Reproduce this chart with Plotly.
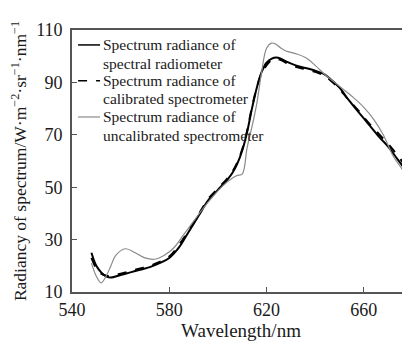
import plotly.graph_objects as go

wl_solid = [548, 550, 552, 554, 556, 560, 564, 568, 572, 576, 580, 584, 588, 592, 596, 600, 604, 606, 608, 610,
            612, 614, 616, 618, 620, 622, 624, 626, 628, 632, 636, 640, 644, 646, 650, 654, 658, 662, 666, 670,
            674, 678, 680]
radiometer = [25, 20, 17.5, 16, 15.5, 16.5, 17.5, 18.5, 19.5, 21, 23, 27, 33, 39, 45, 49, 53, 55.5, 59, 64,
              71, 80, 88, 94, 97.5, 99, 99.5, 99, 98, 96.5, 95.5, 94.5, 93, 91.5, 88, 83, 78.5, 74, 69.5, 65.5,
              60.5, 55.5, 53]
calibrated = [23, 19, 17, 16.2, 16, 17, 18, 19, 20, 21.5, 23.5, 28, 33.5, 39.5, 45.5, 49.5, 53.5, 56, 59.5, 64.5,
              71.5, 80.5, 88, 93.5, 96.5, 98.5, 99, 98.5, 97.5, 96, 95, 94, 92.5, 91, 87.5, 83, 79, 74.5, 70.5, 66.5,
              62, 57, 54.5]

wl_gray = [548, 550, 552, 554, 556, 558, 562, 566, 570, 574, 578, 582, 586, 590, 594, 598, 602, 606, 608, 610,
           612, 614, 616, 618, 620, 622, 624, 626, 628, 632, 636, 640, 644, 648, 652, 656, 660, 664, 668, 672,
           676, 680]
uncalibrated = [21, 16, 13.5, 16, 20, 24, 26.5, 25, 23, 22.5, 24, 27, 32, 37, 42, 46.5, 50.5, 53.5, 54.5, 55,
                65, 73, 82, 94, 103, 105, 104.5, 103, 102, 101, 99.5, 96.5, 93, 90, 87, 84, 80.5, 76, 70, 62,
                56.5, 50]

series_names = [
    ["Spectrum radiance of", "spectral radiometer"],
    ["Spectrum radiance of", "calibrated spectrometer"],
    ["Spectrum radiance of", "uncalibrated spectrometer"],
]

x_ticks = [540, 580, 620, 660]
y_ticks = [10, 30, 50, 70, 90, 110]

font_family = "Liberation Serif"
text_color = "#1a1a1a"

styles = [
    dict(color="black", width=2, dash="solid"),
    dict(color="black", width=2, dash="dash"),
    dict(color="#8a8a8a", width=1.2, dash="solid"),
]
xs = [wl_solid, wl_solid, wl_gray]
ys = [radiometer, calibrated, uncalibrated]

fig = go.Figure()
for i in range(3):
    fig.add_trace(go.Scatter(x=xs[i], y=ys[i], mode="lines", name=" ".join(series_names[i]),
                             showlegend=False,
                             line=dict(color=styles[i]["color"], width=styles[i]["width"],
                                       dash=styles[i]["dash"], shape="spline")))

# Compact legend (tight line spacing as in the reference)
legend_line_y = [0.943, 0.806, 0.668]
legend_text_y = [[0.943, 0.874], [0.806, 0.737], [0.668, 0.599]]
for i in range(3):
    fig.add_shape(type="line", xref="paper", yref="paper", x0=0.018, x1=0.083,
                  y0=legend_line_y[i], y1=legend_line_y[i],
                  line=dict(color=styles[i]["color"], width=1.5 if i < 2 else 1.2,
                            dash="dash" if i == 1 else "solid"))
    for j in range(2):
        fig.add_annotation(xref="paper", yref="paper", x=0.085, y=legend_text_y[i][j],
                           xanchor="left", yanchor="middle", showarrow=False,
                           text=series_names[i][j],
                           font=dict(family=font_family, size=15.5, color=text_color))

fig.update_layout(
    width=402, height=333,
    margin=dict(l=64, r=0, t=22, b=49),
    paper_bgcolor="white", plot_bgcolor="white",
    font=dict(family=font_family, color=text_color, size=16),
    showlegend=False,
    xaxis=dict(range=[540, 679], tickvals=x_ticks, ticks="inside", ticklen=5, tickcolor="#555",
               showline=True, linecolor="#555", linewidth=1.8, mirror=True, showgrid=False, zeroline=False,
               automargin=False,
               title=dict(text="Wavelength/nm", font=dict(size=19), standoff=5),
               tickfont=dict(size=18)),
    yaxis=dict(range=[10, 110], tickvals=y_ticks, ticks="inside", ticklen=5, tickcolor="#555",
               showline=True, linecolor="#555", linewidth=1.8, showgrid=False, zeroline=False,
               automargin=False, ticklabelstandoff=4,
               title=dict(text="Radiancy of spectrum/W·m<sup>−2</sup>·sr<sup>−1</sup>·nm<sup>−1</sup>",
                          font=dict(size=17.5), standoff=8),
               tickfont=dict(size=18)),
)

fig.write_html("out.html")
